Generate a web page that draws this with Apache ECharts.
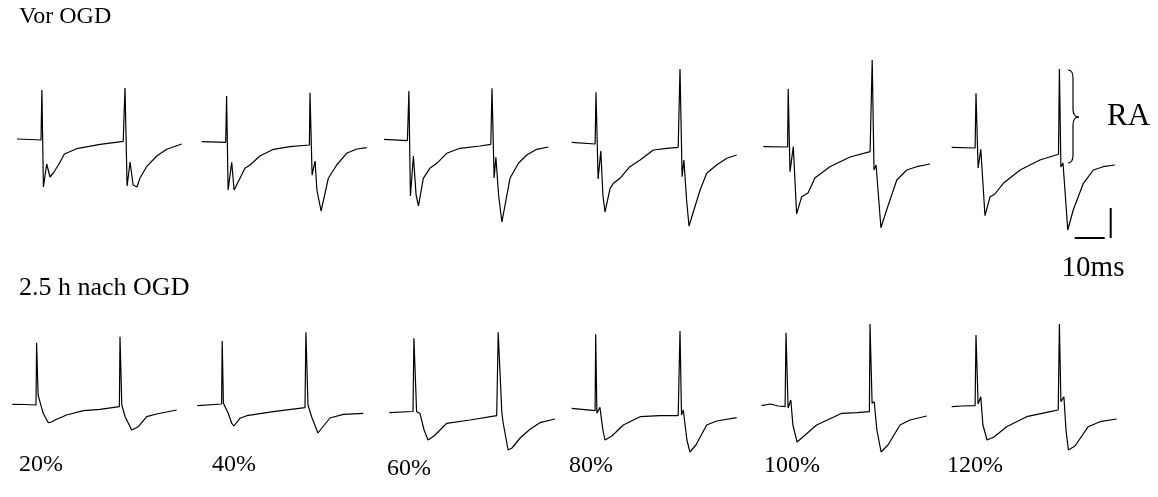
<!DOCTYPE html>
<html>
<head>
<meta charset="utf-8">
<style>
  body { margin: 0; background: #fff; }
  #main { width: 1158px; height: 497px; }
</style>
<script src="https://cdn.jsdelivr.net/npm/echarts@6/dist/echarts.min.js"></script>
</head>
<body>
<div id="main"></div>
<script>
// Feldpotentiale, [Zeit in ms, Amplitude in a.u.] (Skalenbalken = 10 ms / 30 a.u.)
// vor OGD
var vor20 = [[0,1],[4.3,0.5],[8,0],[8.3,50],[8.8,-47],[9.9,-24],[11,-37],[12.1,-33],[13.8,-25],[15.8,-14],[19.9,-8.7],[27.7,-4.3],[35.4,-1.3],[36,52],[36.7,-46],[37.7,-22],[38.7,-45],[40,-47],[41,-38],[43.2,-26.7],[46.6,-16],[49.9,-9.3],[54.9,-4]];
var vor40 = [[0,-1.7],[8,-2.3],[8.3,44],[8.8,-50],[10,-22.3],[10.8,-50],[11.4,-52],[12.8,-38],[14.4,-28.3],[16.1,-25],[19.4,-16],[23.9,-9.3],[29.4,-6.7],[35.9,-5],[36.1,47.3],[36.8,-35],[37.8,-21],[38.4,-50],[39.8,-71],[42.2,-38.3],[45,-25],[48.3,-13.3],[51.7,-9],[55,-7.7]];
var vor60 = [[0,0.7],[7.8,-0.7],[8.3,49],[8.8,-56],[9.8,-16],[10.7,-55],[11.5,-66],[13.1,-38.3],[15.3,-28.3],[17.6,-23.3],[20.9,-13.3],[25.3,-8.3],[32,-6],[35.6,-4.3],[36,51.7],[36.7,-38],[37.3,-17.3],[38.2,-55],[39.3,-82],[42,-38.3],[44.8,-23.3],[47.6,-15],[50.9,-9.3],[54.8,-7]];
var vor80 = [[0,-2.3],[7.8,-4],[8.1,47.7],[8.8,-39],[9.7,-11],[10.4,-55],[11.1,-72],[12.8,-48.3],[13.9,-43.3],[16.1,-38.3],[19.4,-26.7],[22.8,-20],[27.2,-10],[31.7,-8.3],[35.5,-7.3],[36.1,71],[36.8,-36.7],[37.4,-20],[38.3,-60],[39.1,-86],[42.8,-50],[45,-33.3],[48.3,-25],[51.7,-18.3],[55,-15]];
var vor100 = [[0,-6.7],[8.1,-7],[8.3,51],[8.9,-31.7],[10,-6.7],[11.1,-74],[12.8,-56.7],[14.9,-53],[17.2,-38],[22.2,-26.7],[28.9,-17],[35.6,-11.7],[36.3,80],[36.9,-30],[37.6,-25],[39.2,-87.7],[41.1,-70],[44.5,-40],[47.8,-30],[51.1,-26.7],[55.6,-24]];
var vor120 = [[0,-7.3],[7.8,-8],[8.1,46.7],[8.8,-28],[9.7,-9.3],[11.1,-75.7],[12.8,-56.7],[14.4,-54],[17.2,-43.3],[22.8,-30],[29.4,-20],[35.6,-14.3],[35.9,71],[36.4,-27],[37.1,-23],[38.7,-90],[40.5,-70],[43.9,-43.3],[47.2,-30],[50.5,-26.7],[54.4,-25]];
// 2.5 h nach OGD
var nach20 = [[0,0.7],[4.2,0.5],[7.9,0],[8.1,62.3],[8.6,10],[9.2,3.3],[10.3,-8.3],[12,-17.7],[13.1,-17],[14.2,-15],[18.1,-10],[23.7,-5.7],[29.2,-4.3],[35.7,-1.7],[35.9,68.3],[36.5,0],[37.6,-11.7],[39.8,-25],[42,-21.7],[44.8,-11.7],[48.1,-9],[54.8,-5]];
var nach40 = [[0,-0.7],[8.1,1],[8.3,64],[8.7,1.7],[10.3,-8.3],[11.5,-18.3],[12.2,-21],[14.2,-13.3],[16.5,-10.7],[25.3,-6.7],[35.9,-2.7],[36.2,72.7],[36.9,0],[38.1,-11.7],[40.2,-28],[44.2,-13],[48.7,-9.3],[55.3,-8.3]];
var nach60 = [[0,-7.7],[7.9,-6.5],[8.2,66.7],[9.1,-6.7],[10.2,-8.3],[11.6,-25],[12.9,-35],[14.9,-31],[16.9,-25],[19.1,-18.3],[26.9,-15],[35.8,-10.7],[36.3,72.7],[37.5,-6.7],[37.9,-17],[39.6,-45],[40.9,-43],[43.6,-33],[46.9,-24.3],[50.2,-17.7],[55.2,-14]];
var nach80 = [[0,-3.3],[7.8,-5.7],[8,70.7],[8.4,-8.3],[9.4,-2.3],[10.4,-25],[11.1,-35],[13.4,-31],[17.2,-20],[22.8,-11.7],[29.4,-10.7],[35.5,-10.7],[36.1,74],[36.6,-10],[37.2,-5],[38.4,-35],[39.4,-47],[41.4,-40],[45,-20],[48.3,-16],[55,-12.7]];
var nach100 = [[0,-0.7],[2.8,1],[5.5,-1],[7.8,-1.7],[8.1,72.3],[8.8,-3],[9.7,5],[10.4,-20],[11.8,-37],[14.1,-31],[18.3,-20],[26.7,-8.3],[31.7,-7.7],[35.9,-6.7],[36.1,81],[36.8,1.7],[37.5,3.3],[38.4,-25],[39.8,-47],[42.1,-40],[46.1,-20],[49.4,-15],[55,-11]];
var nach120 = [[0,-1.7],[3.4,-1],[7.8,-0.7],[8.1,70],[8.8,1],[9.7,8.3],[10.4,-20],[11.8,-35],[14.1,-32],[18.3,-21.7],[25,-11.7],[32.8,-6.7],[35.5,-5],[35.9,81],[36.4,3.3],[37.4,8.3],[38.1,-25],[38.9,-45],[41.1,-41],[45.5,-21.7],[49.4,-16.7],[55,-14]];

var percentLabels = ['20%', '40%', '60%', '80%', '100%', '120%'];
var scaleBarMs = 10;
var scaleBarAmp = 30;

// Layout
var traceLeft = [17, 201.7, 384, 571.7, 763.3, 951.7, 12.3, 197.3, 389.3, 571.7, 761.7, 951.7];
var labelX = [41, 234, 409, 591, 792, 975];
var labelY = [465, 465, 469, 466, 466, 466];

var traces = [vor20, vor40, vor60, vor80, vor100, vor120, nach20, nach40, nach60, nach80, nach100, nach120];
var serif = '"Liberation Serif", "Times New Roman", serif';

var grids = [], xAxes = [], yAxes = [], series = [];
traces.forEach(function (d, i) {
    var top = i < 6;
    grids.push({ left: traceLeft[i], width: 180, top: top ? 55 : 315, height: top ? 185 : 145 });
    xAxes.push({ type: 'value', gridIndex: i, min: 0, max: 60, show: false });
    yAxes.push({ type: 'value', gridIndex: i, min: top ? -100 : -55, max: top ? 85 : 90, show: false });
    series.push({
        type: 'line', xAxisIndex: i, yAxisIndex: i, data: d,
        showSymbol: false, symbol: 'none',
        lineStyle: { color: '#000', width: 1.2 }
    });
});

// Skalenbalken am letzten Trace vor OGD
series.push({
    type: 'line', xAxisIndex: 5, yAxisIndex: 5, clip: false, symbol: 'none',
    data: [[41, -98], [41 + scaleBarMs, -98]],
    lineStyle: { color: '#000', width: 2 }
});
series.push({
    type: 'line', xAxisIndex: 5, yAxisIndex: 5, clip: false, symbol: 'none',
    data: [[53, -98], [53, -98 + scaleBarAmp]],
    lineStyle: { color: '#000', width: 2 }
});

function label(txt, x, y, size, align) {
    return {
        type: 'text', x: x, y: y,
        style: {
            text: txt, fill: '#000', font: size + 'px ' + serif,
            fontSize: size, fontFamily: serif,
            textAlign: align || 'left', align: align || 'left',
            textVerticalAlign: 'middle', verticalAlign: 'middle'
        }
    };
}

// geschweifte Klammer fuer RA
var braceStyle = { stroke: '#000', lineWidth: 1.2, fill: null };
function curve(x1, y1, cx, cy, x2, y2) {
    return { type: 'bezierCurve', shape: { x1: x1, y1: y1, cpx1: cx, cpy1: cy, x2: x2, y2: y2 }, style: braceStyle };
}
function seg(x1, y1, x2, y2) {
    return { type: 'line', shape: { x1: x1, y1: y1, x2: x2, y2: y2 }, style: braceStyle };
}

var graphics = [
    label('Vor OGD', 19, 17, 24),
    label('2.5 h nach OGD', 19, 288, 26),
    label('RA', 1107, 117, 31),
    label('10ms', 1093, 268, 29, 'center'),
    curve(1068, 70, 1073, 70, 1073, 78),
    seg(1073, 78, 1073, 109),
    curve(1073, 109, 1073, 117, 1079, 117),
    curve(1079, 117, 1073, 117, 1073, 125),
    seg(1073, 125, 1073, 155),
    curve(1073, 155, 1073, 163, 1068, 163)
];
percentLabels.forEach(function (p, i) {
    graphics.push(label(p, labelX[i], labelY[i], 24, 'center'));
});

var myChart = echarts.init(document.getElementById('main'));
var option = {
    animation: false,
    backgroundColor: '#fff',
    grid: grids,
    xAxis: xAxes,
    yAxis: yAxes,
    series: series,
    graphic: graphics
};
myChart.setOption(option);
</script>
</body>
</html>
